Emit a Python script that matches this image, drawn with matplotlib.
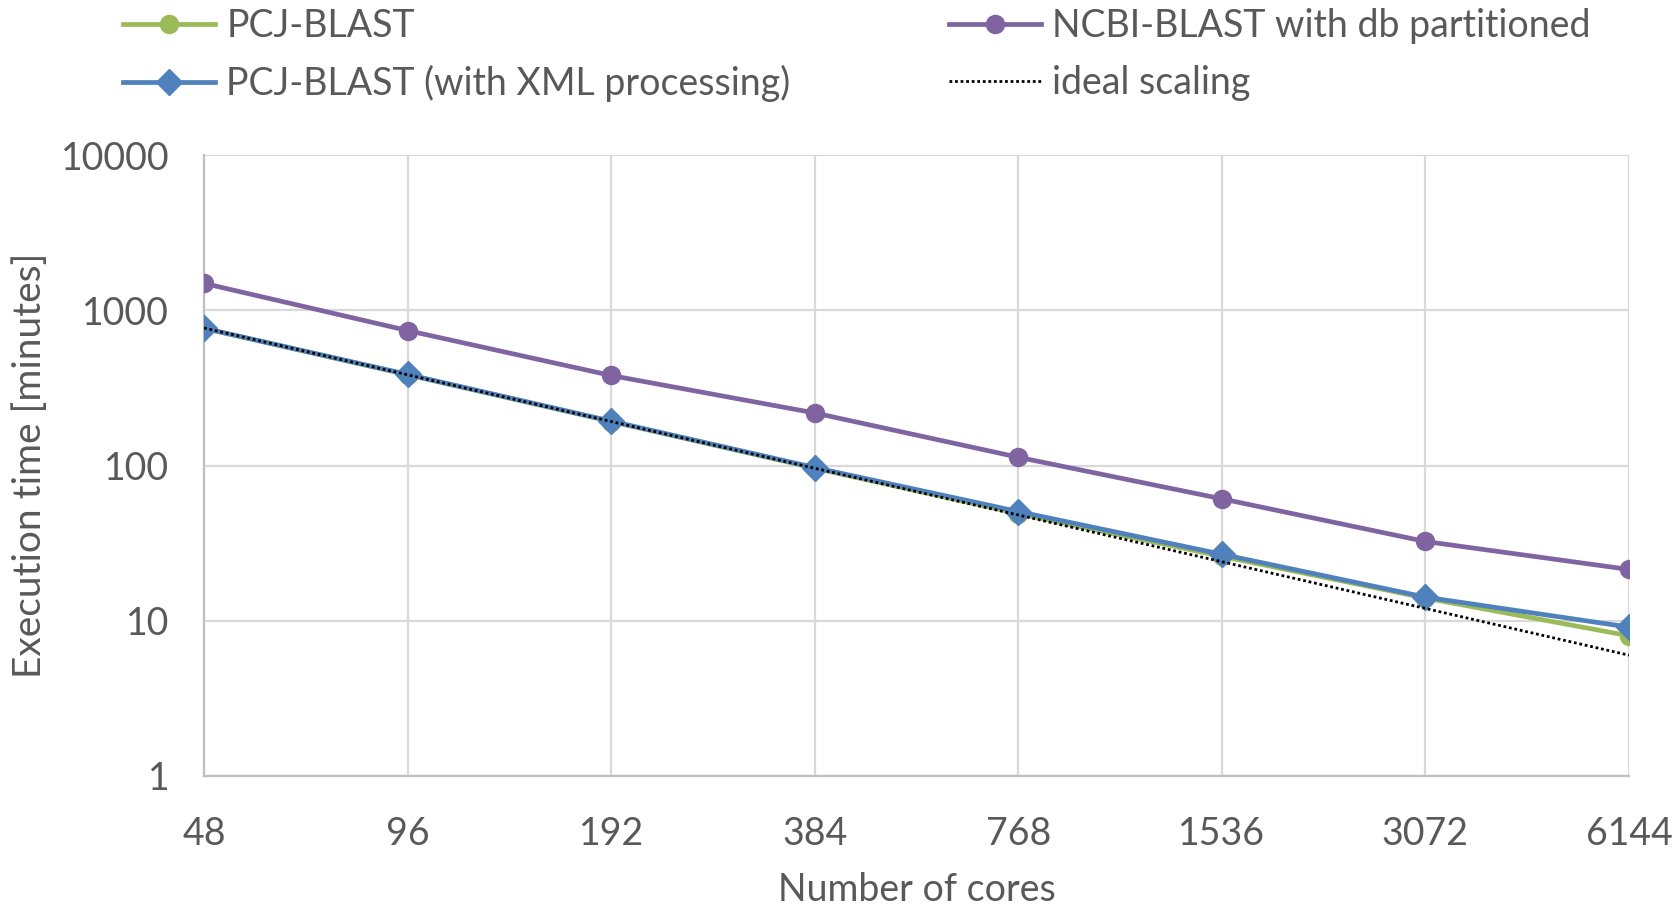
import matplotlib
matplotlib.use("Agg")
import matplotlib.pyplot as plt
from matplotlib.ticker import FixedLocator, NullLocator, FixedFormatter

plt.rcParams['font.family'] = ['Lato', 'DejaVu Sans']

cores = ["48", "96", "192", "384", "768", "1536", "3072", "6144"]
pcj_blast = [765, 384, 192, 96, 49, 26, 14, 8.0]
pcj_blast_xml = [765, 386, 193, 97, 50.5, 26.8, 14.2, 9.1]
ncbi_blast = [1490, 740, 380, 218, 113, 61, 32.4, 21.4]
ideal = [768, 384, 192, 96, 48, 24, 12, 6]

y_ticks = [1, 10, 100, 1000, 10000]
y_tick_labels = ["1", "10", "100", "1000", "10000"]

GREEN = "#9BBB59"
BLUE = "#4F81BD"
PURPLE = "#8064A2"
TEXT = "#595959"
GRID = "#D9D9D9"

fig = plt.figure(figsize=(16.8, 9.06), dpi=100)
ax = fig.add_axes([204/1680, 1-776/906, (1629-204)/1680, (776-155)/906])

x = list(range(len(cores)))
l_ideal, = ax.plot(x, ideal, color="black", linestyle=(0, (1, 1)), linewidth=2.0, zorder=5)
l_green, = ax.plot(x, pcj_blast, color=GREEN, linewidth=3.4, marker="o", markersize=13, zorder=3)
l_blue, = ax.plot(x, pcj_blast_xml, color=BLUE, linewidth=3.4, marker="D", markersize=13, zorder=4)
l_purple, = ax.plot(x, ncbi_blast, color=PURPLE, linewidth=3.4, marker="o", markersize=13, zorder=3)

ax.set_yscale("log")
ax.set_ylim(1, 10000)
ax.set_xlim(0, len(cores)-1)
ax.yaxis.set_major_locator(FixedLocator(y_ticks))
ax.yaxis.set_major_formatter(FixedFormatter(y_tick_labels))
ax.yaxis.set_minor_locator(NullLocator())
ax.set_xticks(x)
ax.set_xticklabels(cores)
ax.grid(True, color=GRID, linewidth=1.6)
ax.set_axisbelow(True)
for s in ["top", "right"]:
    ax.spines[s].set_visible(False)
for s in ["left", "bottom"]:
    ax.spines[s].set_color("#BFBFBF")
    ax.spines[s].set_linewidth(1.6)
ax.tick_params(length=0, labelsize=27, colors=TEXT)
ax.tick_params(axis="x", pad=29)
ax.tick_params(axis="y", pad=25)
ax.set_xlabel("Number of cores", fontsize=27, color=TEXT, labelpad=14)
ax.set_ylabel("Execution time [minutes]", fontsize=28, color=TEXT, labelpad=9)

kw = dict(frameon=False, fontsize=27, handlelength=2.45, handletextpad=0.3,
          borderpad=0, borderaxespad=0, labelspacing=0.55, labelcolor=TEXT)
fig.legend([l_green, l_blue], ["PCJ-BLAST", "PCJ-BLAST (with XML processing)"],
           loc="upper left", bbox_to_anchor=(123/1680, 1-8/906), **kw)
fig.legend([l_purple, l_ideal], ["NCBI-BLAST with db partitioned", "ideal scaling"],
           loc="upper left", bbox_to_anchor=(949/1680, 1-8/906), **kw)

fig.savefig("out.png", dpi=100, facecolor="white")
